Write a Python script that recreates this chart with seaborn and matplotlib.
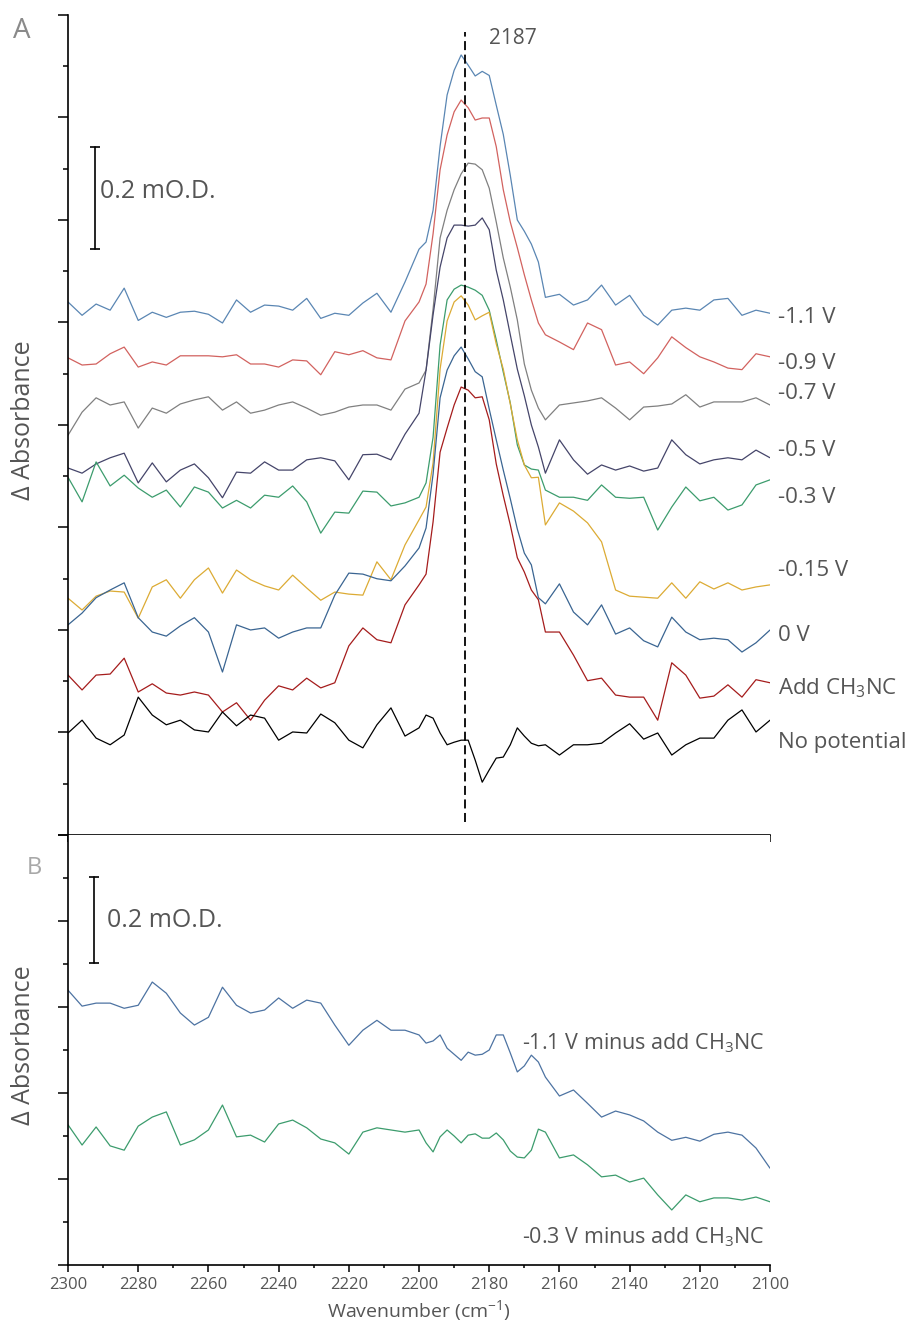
import numpy as np
import pandas as pd
import matplotlib
matplotlib.use("Agg")
import matplotlib.pyplot as plt
import seaborn as sns
from matplotlib.ticker import MultipleLocator

sns.set_style("ticks")
plt.rcParams['font.family'] = ['Open Sans', 'DejaVu Sans']
plt.rcParams['mathtext.default'] = 'regular'

# ---------------- data ----------------
wavenumber = [2300, 2296, 2292, 2288, 2284, 2280, 2276, 2272, 2268, 2264,
              2260, 2256, 2252, 2248, 2244, 2240, 2236, 2232, 2228, 2224,
              2220, 2216, 2212, 2208, 2204,
              2200, 2198, 2196, 2194, 2192, 2190, 2188, 2186, 2184, 2182,
              2180, 2178, 2176, 2174, 2172, 2170, 2168, 2166, 2164,
              2160, 2156, 2152, 2148, 2144, 2140, 2136, 2132, 2128, 2124,
              2120, 2116, 2112, 2108, 2104, 2100]

labels_A = ["-1.1 V", "-0.9 V", "-0.7 V", "-0.5 V", "-0.3 V", "-0.15 V",
            "0 V", "Add CH$_3$NC", "No potential"]

# stacking offsets (mO.D.)
offsets_A = [1.024, 0.931, 0.839, 0.722, 0.673, 0.478, 0.404, 0.283, 0.199]

spec_m1_1 = [0.016, -0.010, 0.012, 0.000, 0.043, -0.020, -0.004, -0.014, -0.004, -0.002,
             -0.008, -0.025, 0.020, -0.004, 0.010, 0.008, 0.000, 0.023, -0.016, -0.006,
             -0.010, 0.014, 0.033, -0.004, 0.055,
             0.119, 0.133, 0.195, 0.320, 0.420, 0.468, 0.498, 0.478, 0.457, 0.466,
             0.458, 0.400, 0.343, 0.263, 0.176, 0.154, 0.129, 0.094, 0.025,
             0.031, 0.010, 0.020, 0.049, 0.010, 0.029, -0.010, -0.029, 0.000, 0.004,
             0.000, 0.020, 0.023, -0.010, 0.000, -0.006]
spec_m0_9 = [0.000, -0.014, -0.012, 0.008, 0.021, -0.018, -0.008, -0.014, 0.004, 0.004,
             0.004, 0.002, 0.006, -0.012, -0.012, -0.018, -0.004, -0.006, -0.033, 0.012,
             0.006, 0.014, 0.000, -0.004, 0.072,
             0.109, 0.144, 0.242, 0.367, 0.435, 0.480, 0.503, 0.488, 0.464, 0.468,
             0.468, 0.412, 0.328, 0.265, 0.215, 0.162, 0.113, 0.068, 0.045,
             0.031, 0.016, 0.068, 0.055, -0.014, -0.008, -0.031, 0.000, 0.041, 0.020,
             0.002, -0.008, -0.020, -0.023, 0.008, 0.002]
spec_m0_7 = [-0.059, -0.014, 0.014, 0.000, 0.006, -0.045, -0.006, -0.016, 0.002, 0.010,
             0.016, -0.010, 0.006, -0.016, -0.010, 0.000, 0.006, -0.006, -0.020, -0.014,
             -0.004, 0.000, 0.000, -0.010, 0.031,
             0.043, 0.068, 0.187, 0.326, 0.380, 0.420, 0.451, 0.472, 0.470, 0.459,
             0.423, 0.357, 0.287, 0.230, 0.166, 0.080, 0.029, -0.006, -0.029,
             0.000, 0.004, 0.008, 0.014, -0.006, -0.029, -0.004, -0.002, 0.002, 0.020,
             -0.004, 0.006, 0.006, 0.006, 0.014, 0.000]
spec_m0_5 = [-0.006, -0.016, 0.002, 0.014, 0.023, -0.035, 0.004, -0.033, -0.010, 0.002,
             -0.025, -0.064, -0.014, -0.016, 0.006, -0.010, -0.010, 0.010, 0.014, 0.008,
             -0.029, 0.020, 0.021, 0.010, 0.060,
             0.101, 0.185, 0.293, 0.386, 0.443, 0.468, 0.468, 0.466, 0.468, 0.482,
             0.459, 0.380, 0.322, 0.254, 0.187, 0.135, 0.078, 0.035, -0.016,
             0.049, 0.010, -0.018, 0.000, -0.010, -0.002, -0.012, -0.006, 0.049, 0.020,
             0.002, 0.010, 0.014, 0.010, 0.029, 0.014]
spec_m0_3 = [0.025, -0.023, 0.055, 0.008, 0.029, 0.004, -0.014, 0.000, -0.033, 0.006,
             -0.004, -0.035, -0.020, -0.035, -0.010, -0.014, 0.008, -0.023, -0.084, -0.043,
             -0.045, -0.002, -0.004, -0.031, -0.025,
             -0.014, 0.014, 0.103, 0.283, 0.371, 0.392, 0.400, 0.396, 0.390, 0.380,
             0.351, 0.293, 0.230, 0.170, 0.088, 0.049, 0.041, 0.039, 0.000,
             -0.014, -0.014, -0.020, 0.010, -0.014, -0.016, -0.014, -0.078, -0.033, 0.006,
             -0.021, -0.014, -0.039, -0.029, 0.010, 0.020]
spec_m0_15 = [-0.016, -0.039, -0.012, -0.002, -0.004, -0.055, 0.006, 0.020, -0.016, 0.020,
              0.043, -0.006, 0.039, 0.020, 0.008, 0.000, 0.029, 0.004, -0.020, -0.004,
              -0.008, -0.010, 0.055, 0.020, 0.088,
              0.137, 0.162, 0.248, 0.431, 0.525, 0.562, 0.574, 0.556, 0.527, 0.535,
              0.542, 0.480, 0.431, 0.363, 0.293, 0.244, 0.219, 0.220, 0.127,
              0.170, 0.154, 0.131, 0.094, 0.000, -0.012, -0.014, -0.016, 0.014, -0.016,
              0.016, 0.002, 0.014, 0.000, 0.006, 0.010]
spec_0 = [0.006, 0.029, 0.059, 0.074, 0.088, 0.020, -0.008, -0.016, 0.004, 0.020,
          -0.008, -0.086, 0.006, -0.004, 0.000, -0.020, -0.008, 0.000, 0.000, 0.064,
          0.107, 0.105, 0.096, 0.092, 0.121,
          0.156, 0.195, 0.300, 0.449, 0.503, 0.531, 0.548, 0.525, 0.500, 0.490,
          0.427, 0.367, 0.308, 0.252, 0.193, 0.146, 0.123, 0.059, 0.047,
          0.086, 0.031, 0.006, 0.045, -0.012, 0.000, -0.025, -0.037, 0.021, -0.008,
          -0.023, -0.020, -0.023, -0.047, -0.029, -0.004]
spec_add = [0.029, 0.000, 0.029, 0.031, 0.062, -0.004, 0.012, -0.006, -0.010, -0.004,
            -0.010, -0.043, -0.025, -0.059, -0.020, 0.008, 0.000, 0.023, 0.004, 0.014,
            0.086, 0.121, 0.098, 0.092, 0.166,
            0.205, 0.226, 0.328, 0.464, 0.511, 0.556, 0.591, 0.585, 0.570, 0.572,
            0.527, 0.441, 0.379, 0.322, 0.258, 0.230, 0.195, 0.176, 0.113,
            0.113, 0.068, 0.018, 0.023, -0.010, -0.014, -0.014, -0.059, 0.053, 0.029,
            -0.016, -0.012, 0.010, -0.014, 0.020, 0.014]
spec_nopot = [0.000, 0.025, -0.010, -0.023, -0.004, 0.070, 0.035, 0.016, 0.025, 0.006,
              0.002, 0.041, 0.014, 0.035, 0.029, -0.014, 0.002, 0.000, 0.037, 0.020,
              -0.014, -0.029, 0.016, 0.049, -0.006,
              0.010, 0.035, 0.029, 0.000, -0.023, -0.018, -0.014, -0.014, -0.053, -0.096,
              -0.072, -0.049, -0.047, -0.023, 0.010, -0.006, -0.020, -0.025, -0.023,
              -0.043, -0.023, -0.023, -0.020, 0.000, 0.018, -0.012, 0.000, -0.043, -0.023,
              -0.010, -0.010, 0.025, 0.045, 0.002, 0.025]

labels_B = ["-1.1 V minus add CH$_3$NC", "-0.3 V minus add CH$_3$NC"]
offsets_B = [0.616, 0.314]
diff_m1_1 = [0.023, -0.014, -0.007, -0.007, -0.019, -0.012, 0.042, 0.016, -0.030, -0.058,
             -0.040, 0.030, -0.012, -0.030, -0.023, 0.005, -0.019, 0.000, -0.007, -0.058,
             -0.105, -0.070, -0.047, -0.070, -0.070,
             -0.081, -0.100, -0.095, -0.081, -0.112, -0.126, -0.140, -0.121, -0.128, -0.126,
             -0.116, -0.081, -0.081, -0.123, -0.167, -0.153, -0.128, -0.144, -0.179,
             -0.223, -0.209, -0.240, -0.272, -0.258, -0.267, -0.281, -0.307, -0.326, -0.319,
             -0.328, -0.312, -0.307, -0.314, -0.344, -0.391]
diff_m0_3 = [0.012, -0.035, 0.007, -0.037, -0.047, 0.009, 0.030, 0.042, -0.035, -0.023,
             0.000, 0.058, -0.016, -0.012, -0.028, 0.014, 0.023, 0.005, -0.021, -0.030,
             -0.056, -0.005, 0.005, 0.000, -0.005,
             0.000, -0.030, -0.051, -0.016, 0.000, -0.014, -0.030, -0.012, -0.009, -0.019,
             -0.019, -0.007, -0.023, -0.049, -0.063, -0.065, -0.047, 0.002, -0.005,
             -0.065, -0.058, -0.081, -0.109, -0.105, -0.121, -0.112, -0.151, -0.186, -0.151,
             -0.167, -0.158, -0.158, -0.163, -0.156, -0.167]

spectra_A = [spec_m1_1, spec_m0_9, spec_m0_7, spec_m0_5, spec_m0_3, spec_m0_15,
             spec_0, spec_add, spec_nopot]
spectra_B = [diff_m1_1, diff_m0_3]

# ---------------- styles ----------------
colors_A = ["#5a86b3", "#d2625f", "#808080", "#45456a", "#3c9c6d", "#dcab34",
            "#3a6592", "#a51c1c", "#000000"]
colors_B = ["#4d73a2", "#3c9c6d"]
label_y_A = [1.009, 0.919, 0.862, 0.751, 0.658, 0.517, 0.390, 0.287, 0.180]
label_pos_B = [(2170.7, 0.516), (2170.7, 0.065)]
text_gray = "#555555"

rows = []
for name, spec, off in zip(labels_A, spectra_A, offsets_A):
    for w, v in zip(wavenumber, spec):
        rows.append({"panel": "A", "series": name, "wavenumber": w, "absorbance": v + off})
for name, spec, off in zip(labels_B, spectra_B, offsets_B):
    for w, v in zip(wavenumber, spec):
        rows.append({"panel": "B", "series": name, "wavenumber": w, "absorbance": v + off})
df = pd.DataFrame(rows)

fig = plt.figure(figsize=(9.07, 13.26), dpi=100)
axA = fig.add_axes([0.075, 0.3703, 0.774, 0.6184])
axB = fig.add_axes([0.075, 0.0460, 0.774, 0.3243])

sns.lineplot(data=df[df.panel == "A"], x="wavenumber", y="absorbance", hue="series",
             hue_order=labels_A, palette=dict(zip(labels_A, colors_A)),
             estimator=None, sort=False, legend=False, linewidth=0.9, ax=axA)
sns.lineplot(data=df[df.panel == "B"], x="wavenumber", y="absorbance", hue="series",
             hue_order=labels_B, palette=dict(zip(labels_B, colors_B)),
             estimator=None, sort=False, legend=False, linewidth=0.9, ax=axB)

for ax in (axA, axB):
    ax.set_xlim(2300, 2100)
    sns.despine(ax=ax, top=True, right=True)
    for s in ("left", "bottom"):
        ax.spines[s].set_linewidth(1.2)
        ax.spines[s].set_color("black")
    ax.xaxis.set_major_locator(MultipleLocator(20))
    ax.xaxis.set_minor_locator(MultipleLocator(10))
    ax.yaxis.set_major_locator(MultipleLocator(0.2))
    ax.yaxis.set_minor_locator(MultipleLocator(0.1))
    ax.tick_params(axis="y", which="major", length=7, width=1.1, direction="out",
                   labelleft=False, color="black")
    ax.tick_params(axis="y", which="minor", length=3.5, width=1.1, direction="out",
                   color="black")
    ax.tick_params(axis="x", which="major", length=5, width=1.1, direction="out", color="black")
    ax.tick_params(axis="x", which="minor", length=2.5, width=1.1, direction="out", color="black")
    ax.set_ylabel("Δ Absorbance", fontsize=18, color=text_gray, va="center")
    ax.set_xlabel("")

axA.set_ylim(0, 1.6)
axB.set_ylim(0, 1.0)
axA.tick_params(axis="x", labelbottom=False)
axB.tick_params(axis="x", labelsize=12, labelcolor=text_gray)
axA.yaxis.set_label_coords(-0.064, 0.506)
axB.yaxis.set_label_coords(-0.064, 0.512)
axB.set_xlabel("Wavenumber (cm$^{-1}$)", fontsize=14, color=text_gray)
axB.xaxis.set_label_coords(0.5, -0.078)

# peak marker
axA.axvline(2187, ymin=0.016, ymax=0.979, color="black", lw=1.3, ls=(0, (5, 2.5)))
axA.text(2180, 1.555, "2187", fontsize=15, color=text_gray, ha="left", va="center")

# scale bars
axA.plot([2292.3, 2292.3], [1.143, 1.343], color="black", lw=1.2,
         marker="_", ms=7, mew=1.2)
axA.text(2290.9, 1.255, "0.2 mO.D.", fontsize=18, color=text_gray, ha="left", va="center")
axB.plot([2292.6, 2292.6], [0.702, 0.902], color="black", lw=1.2,
         marker="_", ms=7, mew=1.2)
axB.text(2288.9, 0.800, "0.2 mO.D.", fontsize=18, color=text_gray, ha="left", va="center")

# series labels
for name, y in zip(labels_A, label_y_A):
    axA.text(1.0114, y, name, transform=axA.get_yaxis_transform(), fontsize=16,
             color=text_gray, ha="left", va="center", clip_on=False)
for name, (x, y) in zip(labels_B, label_pos_B):
    axB.text(x, y, name, fontsize=15.5, color=text_gray, ha="left", va="center",
             clip_on=False)

# panel letters
fig.text(22 / 907, 1 - 31 / 1326, "A", fontsize=20, color="#8a8a8a", ha="center", va="center")
fig.text(34 / 907, 1 - 868 / 1326, "B", fontsize=17, color="#a8a8a8", ha="center", va="center")

fig.savefig("out.png", dpi=100)
